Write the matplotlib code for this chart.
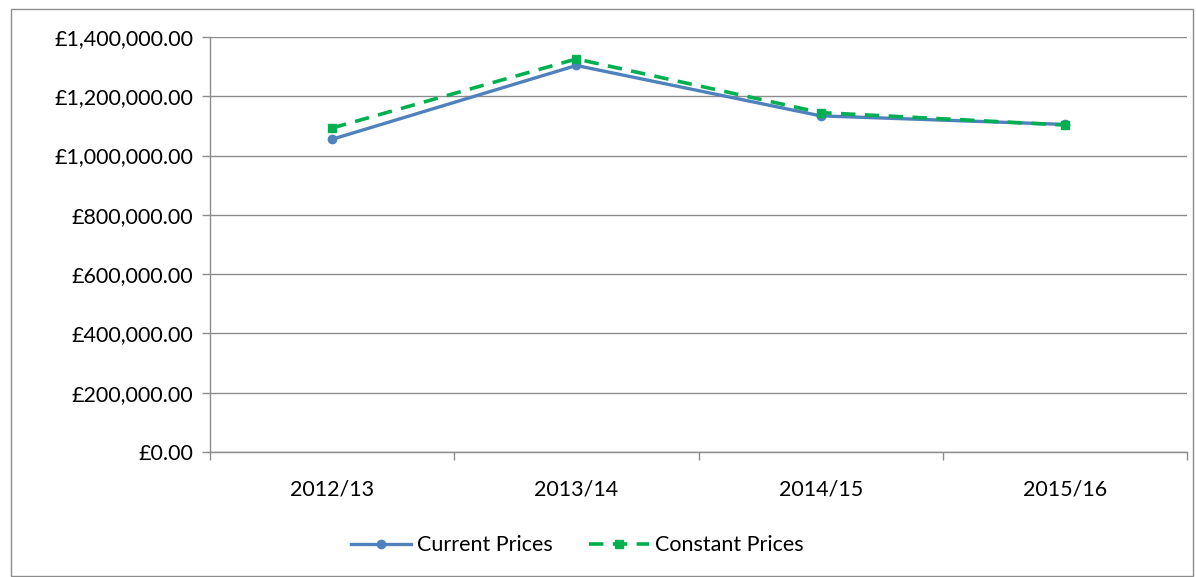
import matplotlib.pyplot as plt
from matplotlib.patches import Rectangle
from matplotlib.ticker import FuncFormatter, FixedLocator

years = ['2012/13', '2013/14', '2014/15', '2015/16']
current = [1055000, 1304000, 1134000, 1105000]
constant = [1093000, 1326000, 1145000, 1103000]

plt.rcParams['font.family'] = ['Lato', 'DejaVu Sans']

fig = plt.figure(figsize=(11.96, 5.77), dpi=100)
ax = fig.add_axes([210/1196, 1-452/577, 977/1196, 415/577])

# outer chart border
fig.patches.append(Rectangle((11/1196, 1/577), 1182/1196, 567/577, transform=fig.transFigure,
                             fill=False, edgecolor='#8c8c8c', linewidth=1.0))

x = range(len(years))
ax.plot(x, current, color='#4F81BD', lw=2.4, marker='o', ms=6, label='Current Prices', zorder=3)
ax.plot(x, constant, color='#00B050', lw=2.6, marker='s', ms=6, dashes=(4, 2.6),
        label='Constant Prices', zorder=4)

ax.set_xlim(-0.5, 3.5)
ax.set_ylim(0, 1400000)
ax.set_yticks(range(0, 1400001, 200000))
ax.yaxis.set_major_formatter(FuncFormatter(lambda v, p: '£{:,.2f}'.format(v)))
ax.set_xticks(list(x))
ax.set_xticklabels(years)
ax.xaxis.set_minor_locator(FixedLocator([-0.5, 0.5, 1.5, 2.5, 3.5]))
ax.tick_params(axis='x', which='major', length=0, pad=20, labelsize=15.5)
ax.tick_params(axis='x', which='minor', length=6, color='#8c8c8c', width=1)
ax.tick_params(axis='y', length=6, color='#8c8c8c', width=1, pad=6, labelsize=15.5)

ax.grid(axis='y', color='#8c8c8c', lw=1)
ax.set_axisbelow(True)
for s in ['top', 'right']:
    ax.spines[s].set_visible(False)
for s in ['left', 'bottom']:
    ax.spines[s].set_color('#8c8c8c')
    ax.spines[s].set_linewidth(1)

ax.legend(loc='center', bbox_to_anchor=(0.376, -0.225), ncol=2, frameon=False,
          fontsize=15.5, handlelength=2.8, handletextpad=0.25, columnspacing=1.7)

fig.savefig('out.png', dpi=100)
